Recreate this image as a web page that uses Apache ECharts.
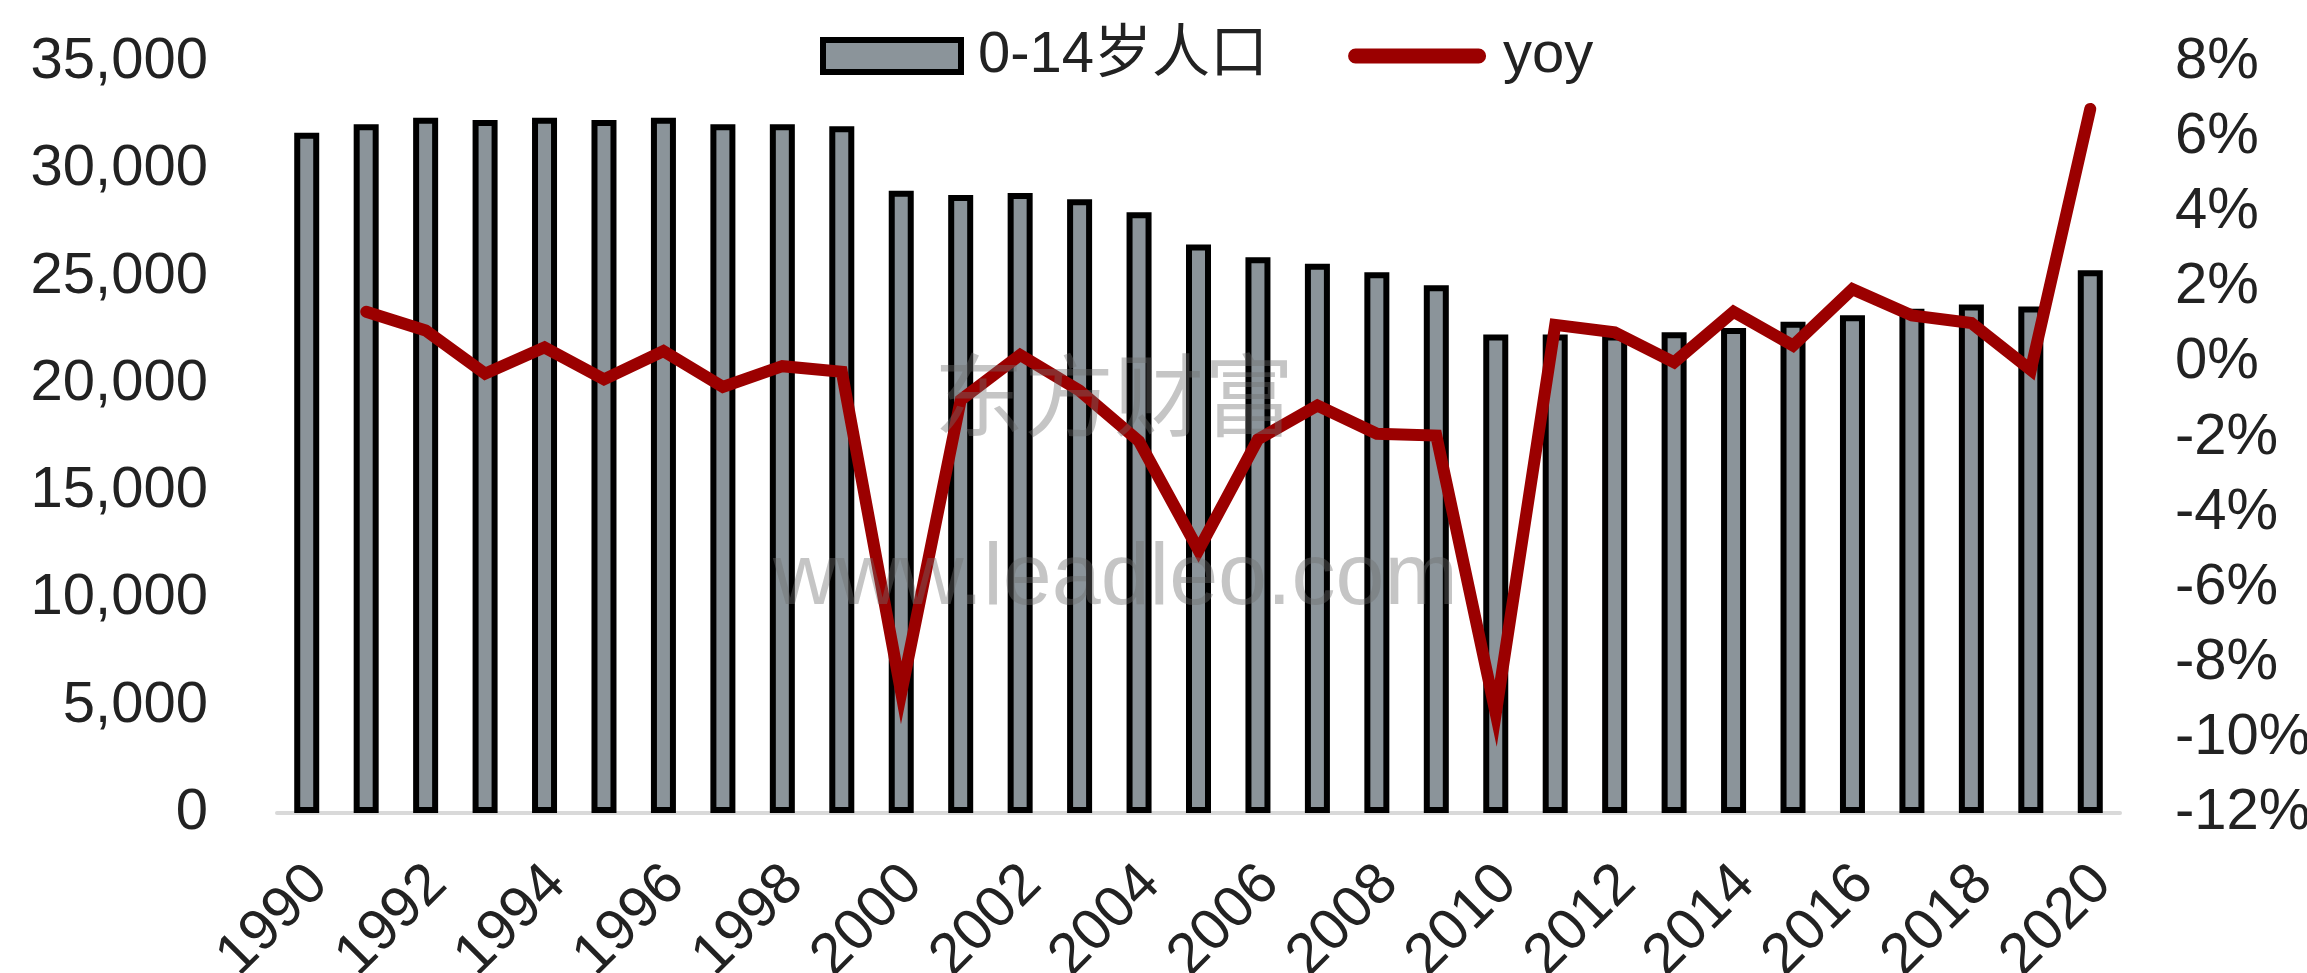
<!DOCTYPE html>
<html>
<head>
<meta charset="utf-8">
<script src="https://cdn.jsdelivr.net/npm/echarts@6/dist/echarts.min.js"></script>
<style>
  html, body { margin: 0; padding: 0; background: #fff; }
  #main { width: 2307px; height: 973px; }
</style>
</head>
<body>
<div id="main"></div>
<script>
// 年份
var years = ['1990', '1991', '1992', '1993', '1994', '1995', '1996', '1997', '1998', '1999',
    '2000', '2001', '2002', '2003', '2004', '2005', '2006', '2007', '2008', '2009',
    '2010', '2011', '2012', '2013', '2014', '2015', '2016', '2017', '2018', '2019', '2020'];

// 0-14岁人口（万人）
var kids = [31700, 32100, 32400, 32300, 32400, 32300, 32400, 32100, 32100, 32000,
    29000, 28800, 28900, 28600, 28000, 26500, 25900, 25600, 25200, 24600,
    22300, 22300, 22300, 22400, 22600, 22900, 23200, 23500, 23700, 23600, 25300];

// yoy（%）
var yoy = [null, 1.35, 0.85, -0.3, 0.4, -0.45, 0.3, -0.65, -0.1, -0.25,
    -8.8, -1.0, 0.2, -0.75, -2.1, -5.0, -2.05, -1.15, -1.9, -1.95,
    -9.35, 1.0, 0.8, 0.0, 1.35, 0.45, 1.95, 1.25, 1.05, -0.2, 6.75];

var leftTicks = { min: 0, max: 35000, step: 5000 };
var rightTicks = { min: -12, max: 8, step: 2 };

var font = '"Liberation Sans", "Noto Sans CJK SC", sans-serif';
var textColor = '#222';

var myChart = echarts.init(document.getElementById('main'));

var option = {
    animation: false,
    backgroundColor: '#fff',
    grid: { left: 277, right: 187, top: 62, bottom: 160, outerBoundsMode: 'none' },
    legend: {
        left: 815,
        top: 22,
        itemWidth: 138,
        itemHeight: 32,
        itemGap: 80,
        symbolKeepAspect: true,
        textStyle: { fontFamily: font, fontSize: 58, color: textColor, padding: [0, 0, 0, 12] },
        data: [
            { name: '0-14岁人口', icon: 'rect',
              itemStyle: { color: '#8b949a', borderColor: '#000', borderWidth: 6 } },
            { name: 'yoy', icon: 'path://M8,0 H141 A8,8 0 0 1 141,16 H8 A8,8 0 0 1 8,0 Z',
              itemStyle: { color: '#9b0000', borderWidth: 0 } }
        ]
    },
    xAxis: {
        type: 'category',
        data: years,
        axisLine: { lineStyle: { color: '#d9d9d9', width: 4 } },
        axisTick: { show: false },
        axisLabel: {
            interval: 1,
            rotate: 45,
            margin: 74,
            padding: [0, -17, 0, 0],
            fontFamily: font,
            fontSize: 58,
            color: textColor
        }
    },
    yAxis: [{
        type: 'value',
        min: leftTicks.min,
        max: leftTicks.max,
        interval: leftTicks.step,
        splitLine: { show: false },
        axisLine: { show: false },
        axisTick: { show: false },
        axisLabel: {
            margin: 69,
            fontFamily: font,
            fontSize: 58,
            color: textColor,
            formatter: v => v.toLocaleString('en-US')
        }
    }, {
        type: 'value',
        min: rightTicks.min,
        max: rightTicks.max,
        interval: rightTicks.step,
        splitLine: { show: false },
        axisLine: { show: false },
        axisTick: { show: false },
        axisLabel: {
            margin: 55,
            fontFamily: font,
            fontSize: 58,
            color: textColor,
            formatter: v => v + '%'
        }
    }],
    graphic: [{
        type: 'text',
        left: 934, top: 350, z: 100, silent: true,
        style: { text: '东方财富', fontFamily: '"Noto Sans CJK SC"', fontSize: 90, fill: 'rgba(110,110,110,0.4)' }
    }, {
        type: 'text',
        left: 773, top: 536, z: 100, silent: true,
        style: { text: 'www.leadleo.com', fontFamily: font, fontSize: 88, fill: 'rgba(110,110,110,0.4)' }
    }],
    series: [{
        name: '0-14岁人口',
        type: 'bar',
        data: kids,
        barWidth: 25,
        itemStyle: { color: '#8b949a', borderColor: '#000', borderWidth: 6 }
    }, {
        name: 'yoy',
        type: 'line',
        yAxisIndex: 1,
        data: yoy,
        symbol: 'none',
        z: 5,
        lineStyle: { color: '#9b0000', width: 12, join: 'miter', miterLimit: 10, cap: 'round' },
        itemStyle: { color: '#9b0000' }
    }]
};

myChart.setOption(option);
</script>
</body>
</html>
